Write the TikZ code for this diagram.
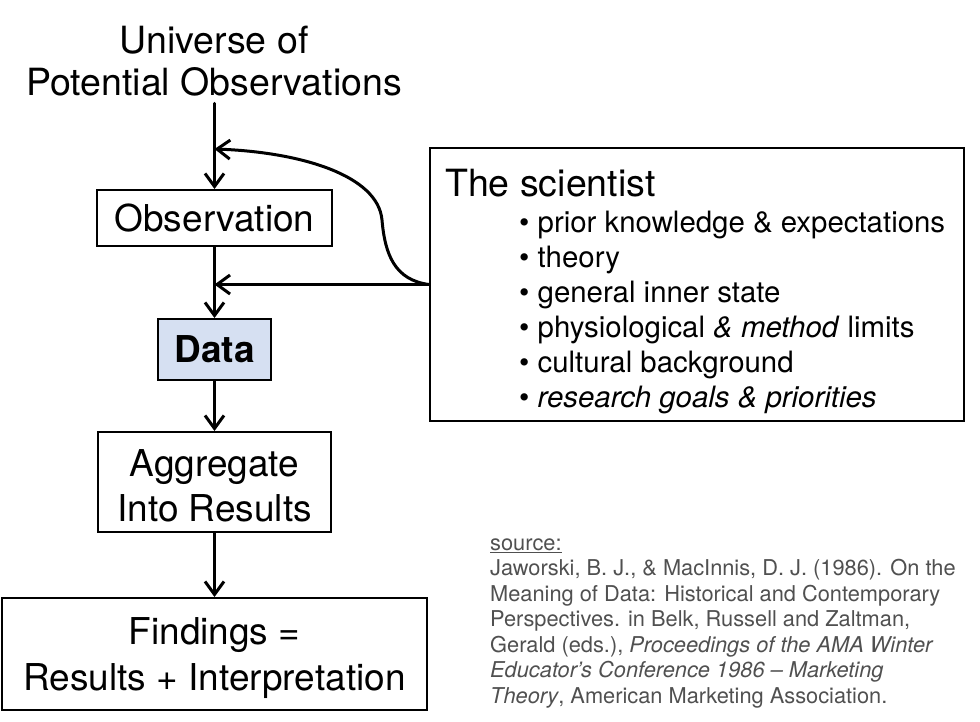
\documentclass[tikz,border=0pt]{standalone}
\usepackage{fontspec}
\setmainfont{TeX Gyre Heros}
\usetikzlibrary{arrows.meta}
\definecolor{databg}{RGB}{214,224,242}
\definecolor{srcgray}{RGB}{80,80,80}
\begin{document}
\begin{tikzpicture}[x=1pt,y=-1pt,
  box/.style={draw, line width=2pt, inner sep=0pt},
  boxtext/.style={inner sep=0pt, font=\fontsize{37}{45}\selectfont, align=center},
  flow/.style={line width=3pt, line cap=round, -{Straight Barb[length=13pt,width=19pt]}},
  bul/.style={anchor=base west, inner sep=0pt, font=\fontsize{29.4}{35}\selectfont},
  src/.style={anchor=base west, inner sep=0pt, font=\fontsize{21.8}{25.5}\selectfont, text=srcgray}]
\useasboundingbox (0,0) rectangle (980,721);
% main column
\node[font=\fontsize{37.5}{42}\selectfont, align=center, inner sep=0pt] (title) at (214,61) {Universe of\\Potential Observations};
\node[box, minimum width=235pt, minimum height=56pt] (obs) at (214.5,218) {};
\node[boxtext] (obst) at (obs.center) {Observation};
\node[box, fill=databg, minimum width=113pt, minimum height=61pt] (data) at (214.5,349.5) {};
\node[boxtext, font=\fontsize{37}{45}\selectfont\bfseries] (datat) at (data.center) {Data};
\node[box, minimum width=233pt, minimum height=100pt] (agg) at (214.5,482) {};
\node[boxtext] (aggt) at ([yshift=-4pt]agg.center) {Aggregate\\Into Results};
\node[box, minimum width=425pt, minimum height=112pt] (find) at (214.5,654) {};
\node[boxtext, font=\fontsize{37}{46}\selectfont] (findt) at ([yshift=-4.5pt]find.center) {Findings =\\Results + Interpretation};
% scientist box
\node[box, minimum width=534pt, minimum height=273pt] (sci) at (697,284.5) {};
\node[anchor=base west, inner sep=0pt, font=\fontsize{37.5}{44}\selectfont] (scit) at (445,196) {The scientist};
\node[bul] (b1) at (519,232) {\textbullet\ prior knowledge \& expectations};
\node[bul] (b2) at (519,267) {\textbullet\ theory};
\node[bul] (b3) at (519,302) {\textbullet\ general inner state};
\node[bul] (b4) at (519,337) {\textbullet\ physiological \textit{\& method} limits};
\node[bul] (b5) at (519,372) {\textbullet\ cultural background};
\node[bul] (b6) at (519,407) {\textbullet\ \textit{research goals \& priorities}};
% source
\node[src] (s0) at (490,550) {\underline{source:}};
\node[src] (s1) at (490,575.5) {Jaworski, B. J., \& MacInnis, D. J. (1986). On the};
\node[src] (s2) at (490,601) {Meaning of Data: Historical and Contemporary};
\node[src] (s3) at (490,626.5) {Perspectives. in Belk, Russell and Zaltman,};
\node[src] (s4) at (490,652) {Gerald (eds.), \textit{Proceedings of the AMA Winter}};
\node[src] (s5) at (490,677.5) {\textit{Educator’s Conference 1986 – Marketing}};
\node[src] (s6) at (490,703) {\textit{Theory}, American Marketing Association.};
% connectors
\coordinate (fb1) at (214.5,149);
\coordinate (fb2) at (214.5,284.5);
\draw[flow] (obs.north |- title.south) ++(0,7) -- (obs.north);
\draw[flow] (obs.south) -- (data.north);
\draw[flow] (data.south) -- (agg.north);
\draw[flow] (agg.south) -- (find.north);
\draw[flow] (sci.west) .. controls (395,280) and (385,255) .. (382,220) .. controls (378,175) and (300,152) .. (fb1);
\draw[flow] (sci.west) -- (fb2);
\end{tikzpicture}
\end{document}
